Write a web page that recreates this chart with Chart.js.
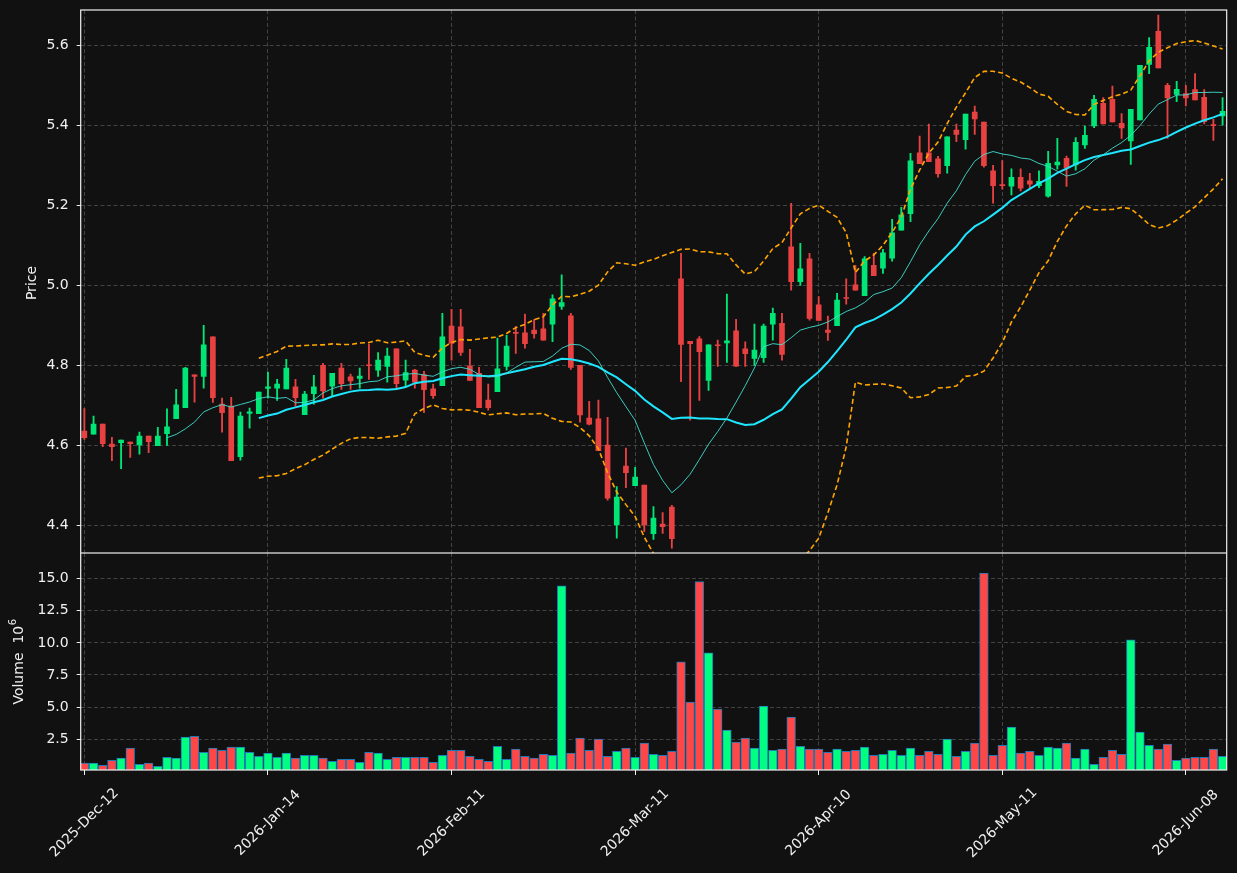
<!DOCTYPE html>
<html>
<head>
<meta charset="utf-8">
<script src="https://cdn.jsdelivr.net/npm/chart.js@4.4.1/dist/chart.umd.min.js"></script>
<style>
  html, body { margin: 0; padding: 0; background: #111111; }
  #wrap { position: relative; width: 1237px; height: 873px; }
  canvas { position: absolute; left: 0; }
  #priceChart { top: 0; }
  #volumeChart { top: 553px; }
</style>
</head>
<body>
<div id="wrap">
  <canvas id="priceChart" width="1237" height="553"></canvas>
  <canvas id="volumeChart" width="1237" height="320"></canvas>
</div>
<script>
// daily bars (index 0 = 2025-Dec-12)
const opens = [4.636,4.628,4.653,4.603,4.607,4.608,4.601,4.623,4.599,4.629,4.667,4.694,4.776,4.772,4.871,4.703,4.698,4.572,4.680,4.679,
  4.742,4.743,4.741,4.746,4.677,4.729,4.800,4.748,4.793,4.771,4.767,4.800,4.788,4.797,4.841,4.763,4.788,4.777,4.741,4.749,
  4.898,4.896,4.798,4.780,4.713,4.734,4.797,4.882,4.881,4.888,4.891,4.903,4.947,4.924,4.800,4.668,4.666,4.601,4.401,4.548,
  4.499,4.501,4.379,4.403,4.446,5.016,4.860,4.866,4.762,4.851,4.856,4.886,4.841,4.817,4.819,4.903,4.905,5.096,5.009,5.066,
  4.951,4.888,4.899,4.968,5.001,4.974,5.050,5.043,5.068,5.138,5.179,5.331,5.331,5.316,5.299,5.388,5.364,5.433,5.408,5.286,
  5.251,5.248,5.270,5.261,5.249,5.223,5.301,5.317,5.301,5.351,5.398,5.455,5.465,5.405,5.361,5.413,5.552,5.635,5.500,5.477,
  5.479,5.489,5.470,5.400,5.423];
const highs = [4.692,4.673,4.653,4.620,4.613,4.608,4.633,4.623,4.645,4.691,4.740,4.795,4.776,4.900,4.871,4.718,4.720,4.683,4.693,4.733,
  4.783,4.765,4.815,4.765,4.735,4.775,4.805,4.780,4.805,4.778,4.793,4.853,4.832,4.843,4.841,4.813,4.790,4.785,4.753,4.930,
  4.940,4.940,4.840,4.795,4.753,4.868,4.875,4.897,4.928,4.915,4.930,4.976,5.026,4.930,4.800,4.710,4.713,4.670,4.497,4.593,
  4.545,4.501,4.447,4.432,4.450,5.080,4.860,4.872,4.851,4.863,4.978,4.915,4.859,4.903,4.903,4.943,4.930,5.205,5.105,5.080,
  4.972,4.923,4.980,5.016,5.050,5.072,5.080,5.090,5.165,5.195,5.330,5.373,5.403,5.322,5.371,5.403,5.428,5.448,5.408,5.300,
  5.312,5.291,5.291,5.280,5.286,5.335,5.367,5.323,5.369,5.398,5.475,5.469,5.498,5.429,5.440,5.550,5.619,5.675,5.505,5.510,
  5.500,5.529,5.489,5.415,5.469];
const lows = [4.615,4.628,4.597,4.562,4.542,4.570,4.578,4.582,4.599,4.600,4.667,4.694,4.708,4.743,4.707,4.633,4.562,4.563,4.643,4.679,
  4.718,4.712,4.741,4.698,4.677,4.703,4.718,4.723,4.740,4.740,4.743,4.765,4.772,4.758,4.743,4.747,4.743,4.682,4.717,4.749,
  4.813,4.825,4.762,4.694,4.688,4.734,4.788,4.830,4.843,4.868,4.863,4.859,4.940,4.790,4.658,4.651,4.587,4.463,4.368,4.494,
  4.499,4.384,4.365,4.380,4.343,4.759,4.663,4.712,4.737,4.797,4.807,4.797,4.797,4.800,4.807,4.863,4.813,4.988,5.000,4.913,
  4.912,4.862,4.899,4.953,4.988,4.974,5.024,5.030,5.060,5.138,5.159,5.304,5.309,5.270,5.280,5.359,5.340,5.377,5.295,5.205,
  5.240,5.226,5.236,5.242,5.244,5.220,5.290,5.247,5.288,5.342,5.394,5.403,5.408,5.367,5.302,5.413,5.529,5.543,5.367,5.459,
  5.448,5.463,5.403,5.362,5.400];
const closes = [4.619,4.653,4.604,4.597,4.613,4.604,4.623,4.609,4.623,4.646,4.701,4.793,4.772,4.851,4.719,4.682,4.562,4.673,4.684,4.733,
  4.746,4.753,4.793,4.719,4.728,4.746,4.736,4.780,4.754,4.761,4.773,4.799,4.813,4.823,4.754,4.782,4.758,4.739,4.724,4.871,
  4.855,4.832,4.762,4.694,4.694,4.791,4.848,4.880,4.854,4.879,4.863,4.966,4.957,4.795,4.676,4.653,4.587,4.468,4.471,4.532,
  4.521,4.401,4.418,4.397,4.367,4.852,4.854,4.834,4.851,4.849,4.861,4.798,4.829,4.838,4.898,4.930,4.827,5.009,5.041,4.917,
  4.912,4.882,4.963,4.967,4.988,5.066,5.024,5.081,5.131,5.176,5.311,5.304,5.309,5.279,5.371,5.377,5.428,5.416,5.299,5.249,
  5.249,5.270,5.243,5.253,5.260,5.305,5.308,5.293,5.357,5.375,5.465,5.403,5.408,5.393,5.440,5.550,5.595,5.543,5.468,5.490,
  5.468,5.463,5.409,5.399,5.435];
// volume in millions
const volumes = [0.63,0.63,0.47,0.86,1.02,1.80,0.55,0.63,0.39,1.09,1.02,2.66,2.73,1.48,1.80,1.64,1.88,1.88,1.48,1.17,
  1.41,1.09,1.41,1.02,1.25,1.25,1.02,0.78,0.94,0.94,0.70,1.48,1.41,0.94,1.09,1.09,1.09,1.09,0.70,1.25,
  1.64,1.64,1.17,0.94,0.78,1.95,0.94,1.72,1.17,1.02,1.33,1.25,14.45,1.41,2.58,1.64,2.50,1.17,1.56,1.80,
  1.09,2.19,1.33,1.25,1.56,8.52,5.39,14.77,9.22,4.84,3.20,2.27,2.58,1.80,5.08,1.64,1.72,4.22,1.95,1.72,
  1.72,1.48,1.72,1.56,1.64,1.88,1.25,1.33,1.64,1.25,1.80,1.25,1.56,1.33,2.50,1.17,1.56,2.19,15.44,1.25,
  2.03,3.44,1.41,1.56,1.25,1.88,1.80,2.19,1.02,1.72,0.55,1.09,1.64,1.33,10.23,3.05,2.03,1.72,2.11,0.86,
  1.02,1.09,1.09,1.72,1.17];

const dateTickIdx = [0, 20, 40, 60, 80, 100, 120];
const dateTickLabels = ['2025-Dec-12', '2026-Jan-14', '2026-Feb-11', '2026-Mar-11', '2026-Apr-10', '2026-May-11', '2026-Jun-08'];
const priceTicks = [4.4, 4.6, 4.8, 5.0, 5.2, 5.4, 5.6];
const volumeTicks = [2.5, 5.0, 7.5, 10.0, 12.5, 15.0];

const UP = '#00e676', DOWN = '#e84142';
const VOL_UP = '#00ff80', VOL_DOWN = '#ff4747';
const TXT = '#f0f0f0', GRID = '#424242';
const FONT = { family: 'DejaVu Sans', size: 14 };
const DASH = [4, 2.5];

// moving averages / bollinger bands of the closes, as the original indicators
const mean = a => a.reduce((s, v) => s + v, 0) / a.length;
const sd = a => { const m = mean(a); return Math.sqrt(a.reduce((s, v) => s + (v - m) ** 2, 0) / (a.length - 1)); };
function rolling(arr, n, fn) { return arr.map((_, i) => i < n - 1 ? null : fn(arr.slice(i - n + 1, i + 1))); }
const ma10 = rolling(closes, 10, mean);
const ma20 = rolling(closes, 20, mean);
const sd20 = rolling(closes, 20, sd);
const bbUp = ma20.map((m, i) => m === null ? null : m + 2 * sd20[i]);
const bbLo = ma20.map((m, i) => m === null ? null : m - 2 * sd20[i]);

const isUp = closes.map((c, i) => c >= opens[i]);
const pts = arr => arr.map((v, i) => ({ x: i, y: v }));

const framePlugin = {
  id: 'frame',
  afterDraw(chart) {
    const { ctx, chartArea: a } = chart;
    ctx.save();
    ctx.strokeStyle = TXT;
    ctx.lineWidth = 1.2;
    ctx.strokeRect(a.left, a.top, a.right - a.left, a.bottom - a.top);
    ctx.restore();
  }
};

function xScale(h, gridExtra) {
  return {
    type: 'linear', min: -0.4, max: 124.45, offset: false,
    afterBuildTicks: ax => { ax.ticks = dateTickIdx.map(v => ({ value: v })); },
    afterFit: ax => { ax.height = h; ax.paddingLeft = 0; ax.paddingRight = 0; },
    border: { display: false, dash: DASH },
    grid: Object.assign({ color: GRID, lineWidth: 1, offset: false, drawTicks: false }, gridExtra),
    ticks: { display: false }
  };
}

function yScale(min, max, tickVals) {
  return {
    min, max,
    afterFit: ax => { ax.width = 80.7; ax.paddingTop = 0; ax.paddingBottom = 0; },
    afterBuildTicks: ax => { ax.ticks = tickVals.map(v => ({ value: v })); },
    border: { display: false, dash: DASH },
    grid: { color: GRID, tickColor: TXT, tickLength: 4, tickBorderDash: [] },
    ticks: { color: TXT, font: FONT, padding: 8, callback: v => v.toFixed(1) }
  };
}

const priceChart = new Chart(document.getElementById('priceChart'), {
  type: 'bar',
  data: {
    datasets: [
      { type: 'line', data: pts(ma10), borderColor: 'rgba(64,224,208,0.9)', borderWidth: 1, pointRadius: 0, order: 0 },
      { type: 'line', data: pts(ma20), borderColor: '#1ee6ff', borderWidth: 2, pointRadius: 0, order: 0 },
      { type: 'line', data: pts(bbUp), borderColor: '#ffa500', borderWidth: 1.6, borderDash: [5, 3], pointRadius: 0, order: 0 },
      { type: 'line', data: pts(bbLo), borderColor: '#ffa500', borderWidth: 1.6, borderDash: [5, 3], pointRadius: 0, order: 0 },
      { data: opens.map((o, i) => ({ x: i, y: [o, closes[i]] })), backgroundColor: isUp.map(u => u ? UP : DOWN),
        barThickness: 5, minBarLength: 1, grouped: false, order: 1 },
      { data: lows.map((l, i) => ({ x: i, y: [l, highs[i]] })), backgroundColor: isUp.map(u => u ? UP : DOWN),
        barThickness: 1.2, grouped: false, order: 2 }
    ]
  },
  options: {
    responsive: false, animation: false,
    layout: { padding: { top: 10, right: 10.3, left: 0, bottom: 0 } },
    plugins: { legend: { display: false }, tooltip: { enabled: false } },
    scales: {
      x: xScale(0, {}),
      y: yScale(4.331, 5.688, priceTicks)
    }
  },
  plugins: [framePlugin, {
    id: 'ylabel',
    afterDraw(chart) {
      const { ctx } = chart;
      ctx.save();
      ctx.fillStyle = TXT;
      ctx.font = '14px "DejaVu Sans"';
      ctx.translate(32, 283);
      ctx.rotate(-Math.PI / 2);
      ctx.textAlign = 'center';
      ctx.textBaseline = 'middle';
      ctx.fillText('Price', 0, 0);
      ctx.restore();
    }
  }]
});

const volumeChart = new Chart(document.getElementById('volumeChart'), {
  type: 'bar',
  data: {
    datasets: [{
      data: pts(volumes),
      backgroundColor: isUp.map(u => u ? VOL_UP : VOL_DOWN),
      borderColor: '#1f77b4', borderWidth: 1,
      barThickness: 8.7, grouped: false
    }]
  },
  options: {
    responsive: false, animation: false,
    layout: { padding: { top: 0, right: 10.3, left: 0, bottom: 0 } },
    plugins: { legend: { display: false }, tooltip: { enabled: false } },
    scales: {
      x: xScale(103, { drawTicks: true, tickLength: 5, tickColor: TXT, tickBorderDash: [] }),
      y: yScale(0.1, 17.0, volumeTicks)
    }
  },
  plugins: [framePlugin, {
    id: 'labels',
    afterDraw(chart) {
      const { ctx } = chart;
      const x = chart.scales.x;
      ctx.save();
      ctx.fillStyle = TXT;
      ctx.font = '14px "DejaVu Sans"';
      ctx.textAlign = 'center';
      ctx.textBaseline = 'middle';
      dateTickIdx.forEach((v, k) => {
        ctx.save();
        ctx.translate(x.getPixelForValue(v), 823 - 553);
        ctx.rotate(-Math.PI / 4);
        ctx.fillText(dateTickLabels[k], 0, 0);
        ctx.restore();
      });
      // y label with the 10^6 multiplier
      ctx.translate(19, 662 - 553);
      ctx.rotate(-Math.PI / 2);
      ctx.textAlign = 'left';
      const main = 'Volume  10';
      const w1 = ctx.measureText(main).width;
      ctx.font = '10px "DejaVu Sans"';
      const w2 = ctx.measureText('6').width;
      const x0 = -(w1 + w2) / 2;
      ctx.font = '14px "DejaVu Sans"';
      ctx.fillText(main, x0, 0);
      ctx.font = '10px "DejaVu Sans"';
      ctx.fillText('6', x0 + w1 + 0.5, -6);
      ctx.restore();
    }
  }]
});
</script>
</body>
</html>
